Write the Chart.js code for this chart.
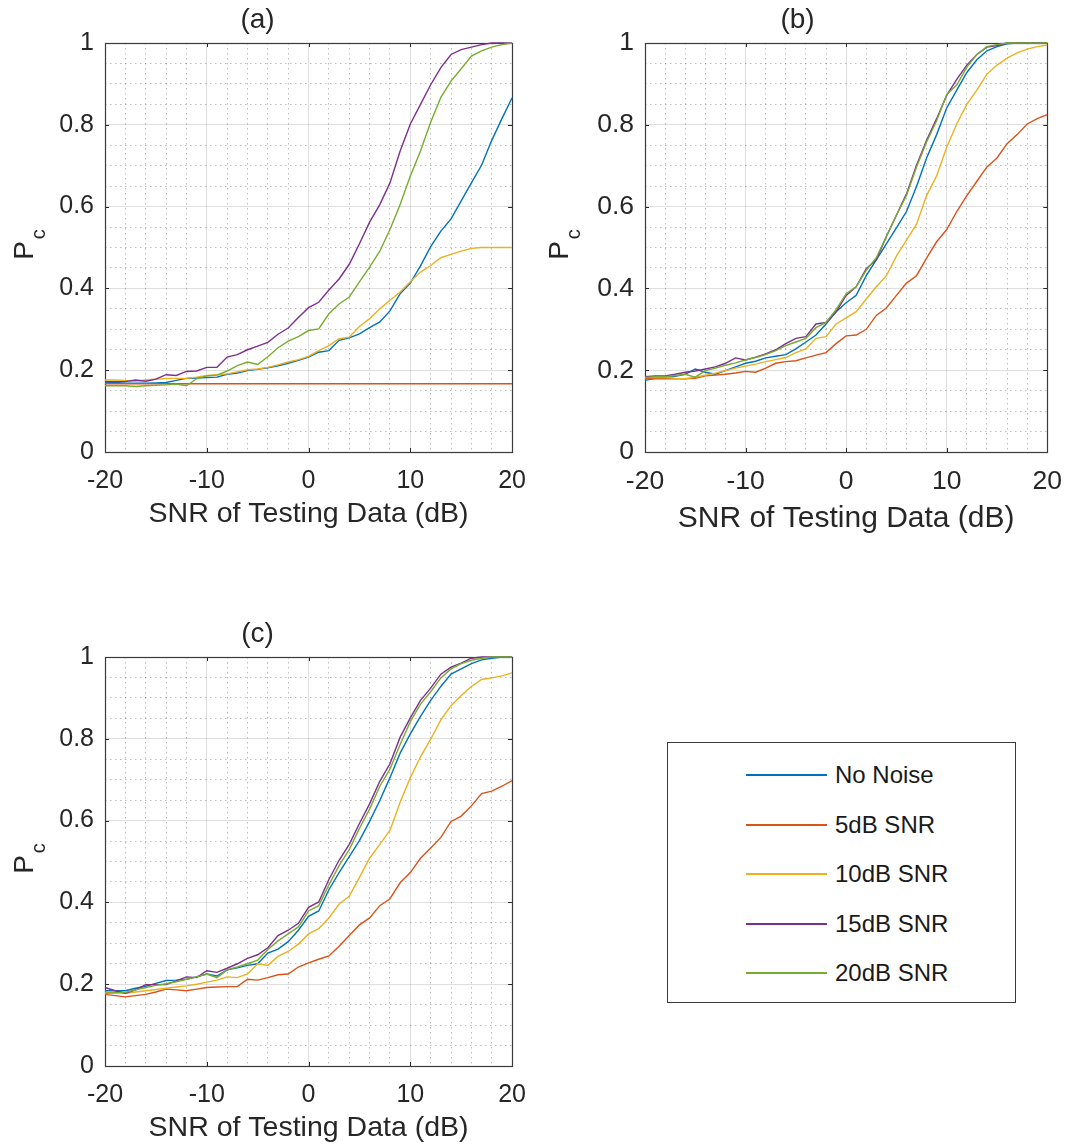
<!DOCTYPE html>
<html>
<head>
<meta charset="utf-8">
<script src="https://cdn.jsdelivr.net/npm/chart.js@4.4.1/dist/chart.umd.min.js"></script>
<style>
    html, body { margin: 0; padding: 0; background: #fff; overflow: hidden; }
    .panel { position: absolute; }
    #legend { position: absolute; left: 667px; top: 742px; width: 349px; height: 261px; border: 1.5px solid #3a3a3a; box-sizing: border-box; background: #fff; }
    .lg-row { position: absolute; left: 0; height: 0; }
    .lg-line { position: absolute; left: 78px; width: 81px; height: 2px; top: -1px; }
    .lg-text { position: absolute; left: 167px; top: -15px; font: 24px "Liberation Sans", Arial, sans-serif; color: #1a1a1a; white-space: nowrap; line-height: 30px; }
</style>
</head>
<body>
<div class="panel" style="left:0;top:0;"><canvas id="chartA" width="540" height="540"></canvas></div>
<div class="panel" style="left:540px;top:0;"><canvas id="chartB" width="536" height="540"></canvas></div>
<div class="panel" style="left:0;top:614px;"><canvas id="chartC" width="540" height="534"></canvas></div>
<div id="legend"></div>

<script>
// x values (dB)
const snrDb = [-20, -19, -18, -17, -16, -15, -14, -13, -12, -11, -10, -9, -8, -7, -6, -5, -4, -3, -2, -1,
    0, 1, 2, 3, 4, 5, 6, 7, 8, 9, 10, 11, 12, 13, 14, 15, 16, 17, 18, 19, 20];

const seriesNames = ['No Noise', '5dB SNR', '10dB SNR', '15dB SNR', '20dB SNR'];
const seriesColors = ['#0072BD', '#D95319', '#EDB120', '#7E2F8E', '#77AC30'];

const xTickLabels = [-20, -10, 0, 10, 20];
const yTickLabels = [0, 0.2, 0.4, 0.6, 0.8, 1];

// (a)
const aNoNoise = [0.171, 0.170, 0.168, 0.168, 0.168, 0.169, 0.170, 0.175, 0.180, 0.181, 0.182, 0.183, 0.190, 0.193, 0.199, 0.202, 0.206, 0.211, 0.217, 0.224,
    0.232, 0.244, 0.248, 0.273, 0.279, 0.289, 0.304, 0.318, 0.345, 0.387, 0.413, 0.455, 0.502, 0.540, 0.570, 0.614, 0.658, 0.701, 0.762, 0.815, 0.866];
const a5dB = [0.167, 0.167, 0.167, 0.167, 0.167, 0.167, 0.167, 0.167, 0.167, 0.167, 0.167, 0.167, 0.167, 0.167, 0.167, 0.167, 0.167, 0.167, 0.167, 0.167,
    0.167, 0.167, 0.167, 0.167, 0.167, 0.167, 0.167, 0.167, 0.167, 0.167, 0.167, 0.167, 0.167, 0.167, 0.167, 0.167, 0.167, 0.167, 0.167, 0.167, 0.167];
const a10dB = [0.176, 0.176, 0.175, 0.173, 0.176, 0.178, 0.180, 0.180, 0.180, 0.183, 0.187, 0.189, 0.191, 0.196, 0.201, 0.203, 0.207, 0.213, 0.220, 0.226,
    0.234, 0.248, 0.260, 0.277, 0.281, 0.307, 0.326, 0.350, 0.371, 0.391, 0.416, 0.440, 0.456, 0.475, 0.483, 0.491, 0.498, 0.500, 0.500, 0.500, 0.500];
const a15dB = [0.172, 0.172, 0.172, 0.176, 0.173, 0.178, 0.189, 0.187, 0.197, 0.198, 0.207, 0.207, 0.232, 0.238, 0.250, 0.259, 0.268, 0.288, 0.303, 0.329,
    0.353, 0.366, 0.396, 0.423, 0.459, 0.509, 0.562, 0.605, 0.658, 0.736, 0.802, 0.850, 0.898, 0.940, 0.972, 0.984, 0.990, 0.996, 1.0, 1.0, 1.0];
const a20dB = [0.162, 0.162, 0.162, 0.160, 0.162, 0.163, 0.164, 0.166, 0.162, 0.179, 0.186, 0.188, 0.198, 0.211, 0.220, 0.214, 0.233, 0.255, 0.271, 0.282,
    0.297, 0.301, 0.338, 0.362, 0.379, 0.416, 0.452, 0.491, 0.544, 0.605, 0.675, 0.736, 0.806, 0.867, 0.907, 0.937, 0.968, 0.981, 0.990, 0.996, 1.0];

// (b)
const bNoNoise = [0.175, 0.180, 0.182, 0.185, 0.190, 0.203, 0.195, 0.190, 0.199, 0.208, 0.217, 0.222, 0.230, 0.234, 0.238, 0.252, 0.269, 0.286, 0.313, 0.343,
    0.365, 0.383, 0.431, 0.470, 0.509, 0.548, 0.588, 0.649, 0.719, 0.776, 0.841, 0.885, 0.928, 0.959, 0.981, 0.991, 0.998, 1.0, 1.0, 1.0, 1.0];
const b5dB = [0.179, 0.179, 0.179, 0.179, 0.179, 0.180, 0.186, 0.188, 0.190, 0.193, 0.197, 0.195, 0.205, 0.217, 0.221, 0.223, 0.230, 0.237, 0.243, 0.265,
    0.284, 0.286, 0.300, 0.334, 0.352, 0.383, 0.413, 0.431, 0.474, 0.514, 0.544, 0.588, 0.627, 0.662, 0.697, 0.719, 0.754, 0.776, 0.802, 0.815, 0.825];
const b10dB = [0.182, 0.182, 0.182, 0.180, 0.179, 0.183, 0.188, 0.193, 0.199, 0.205, 0.210, 0.215, 0.221, 0.226, 0.231, 0.243, 0.252, 0.278, 0.282, 0.313,
    0.328, 0.343, 0.374, 0.404, 0.431, 0.479, 0.518, 0.557, 0.627, 0.675, 0.745, 0.802, 0.850, 0.885, 0.924, 0.946, 0.963, 0.976, 0.985, 0.991, 0.995];
const b15dB = [0.184, 0.186, 0.186, 0.190, 0.195, 0.198, 0.203, 0.208, 0.217, 0.230, 0.225, 0.232, 0.240, 0.250, 0.265, 0.278, 0.282, 0.313, 0.317, 0.343,
    0.383, 0.404, 0.448, 0.470, 0.527, 0.579, 0.631, 0.701, 0.762, 0.815, 0.872, 0.911, 0.946, 0.972, 0.990, 0.994, 1.0, 1.0, 1.0, 1.0, 1.0];
const b20dB = [0.182, 0.184, 0.184, 0.187, 0.190, 0.183, 0.199, 0.205, 0.212, 0.218, 0.225, 0.231, 0.238, 0.248, 0.260, 0.269, 0.278, 0.304, 0.317, 0.348,
    0.387, 0.404, 0.444, 0.475, 0.527, 0.579, 0.627, 0.697, 0.758, 0.810, 0.874, 0.897, 0.941, 0.972, 0.991, 0.996, 1.0, 1.0, 1.0, 1.0, 1.0];

// (c)
const cNoNoise = [0.184, 0.184, 0.184, 0.190, 0.195, 0.202, 0.209, 0.210, 0.212, 0.218, 0.225, 0.220, 0.235, 0.240, 0.246, 0.250, 0.276, 0.286, 0.304, 0.332,
    0.366, 0.379, 0.431, 0.473, 0.512, 0.551, 0.598, 0.649, 0.705, 0.765, 0.812, 0.855, 0.894, 0.928, 0.958, 0.971, 0.984, 0.993, 0.997, 1.0, 1.0];
const c5dB = [0.175, 0.172, 0.169, 0.172, 0.175, 0.181, 0.188, 0.186, 0.184, 0.188, 0.192, 0.193, 0.194, 0.194, 0.212, 0.210, 0.216, 0.223, 0.225, 0.242,
    0.252, 0.261, 0.269, 0.293, 0.319, 0.345, 0.362, 0.392, 0.409, 0.448, 0.473, 0.508, 0.533, 0.559, 0.598, 0.611, 0.636, 0.666, 0.672, 0.684, 0.698];
const c10dB = [0.180, 0.179, 0.178, 0.181, 0.184, 0.187, 0.190, 0.193, 0.196, 0.200, 0.205, 0.210, 0.218, 0.216, 0.225, 0.250, 0.246, 0.268, 0.280, 0.298,
    0.323, 0.336, 0.362, 0.396, 0.415, 0.461, 0.508, 0.542, 0.576, 0.645, 0.705, 0.756, 0.799, 0.846, 0.881, 0.906, 0.928, 0.945, 0.949, 0.954, 0.961];
const c15dB = [0.192, 0.184, 0.178, 0.186, 0.199, 0.199, 0.199, 0.208, 0.218, 0.216, 0.233, 0.229, 0.239, 0.250, 0.263, 0.272, 0.289, 0.319, 0.332, 0.349,
    0.388, 0.401, 0.456, 0.503, 0.542, 0.593, 0.641, 0.696, 0.739, 0.804, 0.851, 0.894, 0.924, 0.958, 0.975, 0.985, 0.997, 1.0, 1.0, 1.0, 1.0];
const c20dB = [0.178, 0.179, 0.180, 0.186, 0.192, 0.197, 0.201, 0.206, 0.212, 0.218, 0.225, 0.216, 0.235, 0.242, 0.250, 0.259, 0.285, 0.306, 0.323, 0.340,
    0.379, 0.392, 0.443, 0.490, 0.529, 0.581, 0.628, 0.684, 0.726, 0.786, 0.842, 0.885, 0.915, 0.949, 0.971, 0.984, 0.992, 0.997, 1.0, 1.0, 1.0];

const FONT = '"Liberation Sans", Arial, Helvetica, sans-serif';
const INK = '#262626';
Chart.defaults.font.family = FONT;
Chart.defaults.color = INK;

// box, inward ticks and the P_c label, MATLAB style
const matlabAxes = {
    id: 'matlabAxes',
    beforeDatasetsDraw(chart, args, opts) {
        const { ctx, chartArea: a, scales: { x, y } } = chart;
        ctx.save();
        ctx.strokeStyle = INK;
        ctx.lineWidth = 1;
        ctx.beginPath();
        xTickLabels.forEach(v => {
            const px = Math.round(x.getPixelForValue(v)) + 0.5;
            ctx.moveTo(px, a.bottom); ctx.lineTo(px, a.bottom - 4);
            ctx.moveTo(px, a.top); ctx.lineTo(px, a.top + 4);
        });
        yTickLabels.forEach(v => {
            const py = Math.round(y.getPixelForValue(v)) + 0.5;
            ctx.moveTo(a.left, py); ctx.lineTo(a.left + 4, py);
            ctx.moveTo(a.right, py); ctx.lineTo(a.right - 4, py);
        });
        ctx.stroke();
        ctx.strokeStyle = '#3a3a3a';
        ctx.lineWidth = 1.2;
        ctx.strokeRect(Math.round(a.left) + 0.5, Math.round(a.top) + 0.5, Math.round(a.width), Math.round(a.height));
        ctx.restore();
    },
    afterDraw(chart, args, opts) {
        const { ctx, chartArea: a } = chart;
        ctx.save();
        ctx.translate(opts.titleX, (a.top + a.bottom) / 2 - 3);
        ctx.rotate(-Math.PI / 2);
        ctx.fillStyle = INK;
        ctx.textBaseline = 'alphabetic';
        ctx.textAlign = 'left';
        ctx.font = opts.size + 'px ' + FONT;
        const pW = ctx.measureText('P').width;
        ctx.font = Math.round(opts.size * 0.72) + 'px ' + FONT;
        const cW = ctx.measureText('c').width;
        const x0 = -(pW + cW + 2) / 2;
        ctx.font = opts.size + 'px ' + FONT;
        ctx.fillText('P', x0, 0);
        ctx.font = Math.round(opts.size * 0.72) + 'px ' + FONT;
        ctx.fillText('c', x0 + pW + 2, opts.size * 0.42);
        ctx.restore();
    }
};

function isMajor(v, step) {
    return Math.abs(v / step - Math.round(v / step)) < 1e-6;
}

function makePanel(id, title, series, p) {
    const H = document.getElementById(id).height;
    const W = document.getElementById(id).width;
    new Chart(document.getElementById(id), {
        type: 'line',
        data: {
            datasets: series.map((vals, i) => ({
                label: seriesNames[i],
                data: snrDb.map((x, k) => ({ x: x, y: vals[k] })),
                borderColor: seriesColors[i],
                backgroundColor: seriesColors[i],
                borderWidth: 1.4,
                pointRadius: 0,
                tension: 0,
                fill: false,
                clip: false,
                order: series.length - i
            }))
        },
        options: {
            responsive: false,
            animation: false,
            events: [],
            layout: { padding: { left: 0, right: W - 515, top: 0, bottom: 0 } },
            plugins: {
                legend: { display: false },
                tooltip: { enabled: false },
                title: {
                    display: true,
                    text: title,
                    color: INK,
                    font: { size: 28, weight: 'normal', lineHeight: 1.2 },
                    padding: { top: 3, bottom: 43 - 3 - 33.6 }
                },
                matlabAxes: { titleX: p.pX, size: 28 }
            },
            scales: {
                x: {
                    type: 'linear',
                    min: -20, max: 20,
                    afterFit: s => { s.height = H - 452; },
                    ticks: {
                        stepSize: 2,
                        autoSkip: false,
                        maxRotation: 0,
                        padding: 14,
                        color: INK,
                        font: { size: p.tick },
                        callback: v => isMajor(v, 10) ? String(v) : ''
                    },
                    grid: {
                        drawTicks: false,
                        lineWidth: 1,
                        color: c => isMajor(c.tick.value, 10) ? 'rgba(38,38,38,0.15)' : 'rgba(38,38,38,0.3)'
                    },
                    border: {
                        display: false,
                        dash: c => (c.tick && !isMajor(c.tick.value, 10)) ? [1.5, 3.5] : []
                    },
                    title: {
                        display: true,
                        text: 'SNR of Testing Data (dB)',
                        color: INK,
                        font: { size: p.label, lineHeight: 1.2 },
                        padding: { top: 0, bottom: Math.max(0, H - p.titleY - p.label * 0.6) }
                    }
                },
                y: {
                    min: 0, max: 1,
                    afterFit: s => { s.width = 105; },
                    ticks: {
                        stepSize: 0.05,
                        autoSkip: false,
                        padding: 11,
                        color: INK,
                        font: { size: p.tick },
                        callback: v => isMajor(v, 0.2) ? String(Math.round(v * 10) / 10) : ''
                    },
                    grid: {
                        drawTicks: false,
                        lineWidth: 1,
                        color: c => isMajor(c.tick.value, 0.2) ? 'rgba(38,38,38,0.15)' : 'rgba(38,38,38,0.3)'
                    },
                    border: {
                        display: false,
                        dash: c => (c.tick && !isMajor(c.tick.value, 0.2)) ? [1.5, 3.5] : []
                    }
                }
            }
        },
        plugins: [matlabAxes]
    });
}

makePanel('chartA', '(a)', [aNoNoise, a5dB, a10dB, a15dB, a20dB], { tick: 25, label: 28.5, pX: 33, titleY: 514 });
makePanel('chartB', '(b)', [bNoNoise, b5dB, b10dB, b15dB, b20dB], { tick: 26.5, label: 30, pX: 28, titleY: 519 });
makePanel('chartC', '(c)', [cNoNoise, c5dB, c10dB, c15dB, c20dB], { tick: 25, label: 28.5, pX: 33, titleY: 514 });

// legend box
const legend = document.getElementById('legend');
seriesNames.forEach((name, i) => {
    const row = document.createElement('div');
    row.className = 'lg-row';
    row.style.top = (32 + i * 49.5) + 'px';
    row.innerHTML = '<div class="lg-line" style="background:' + seriesColors[i] + '"></div><div class="lg-text">' + name + '</div>';
    legend.appendChild(row);
});
</script>
</body>
</html>
